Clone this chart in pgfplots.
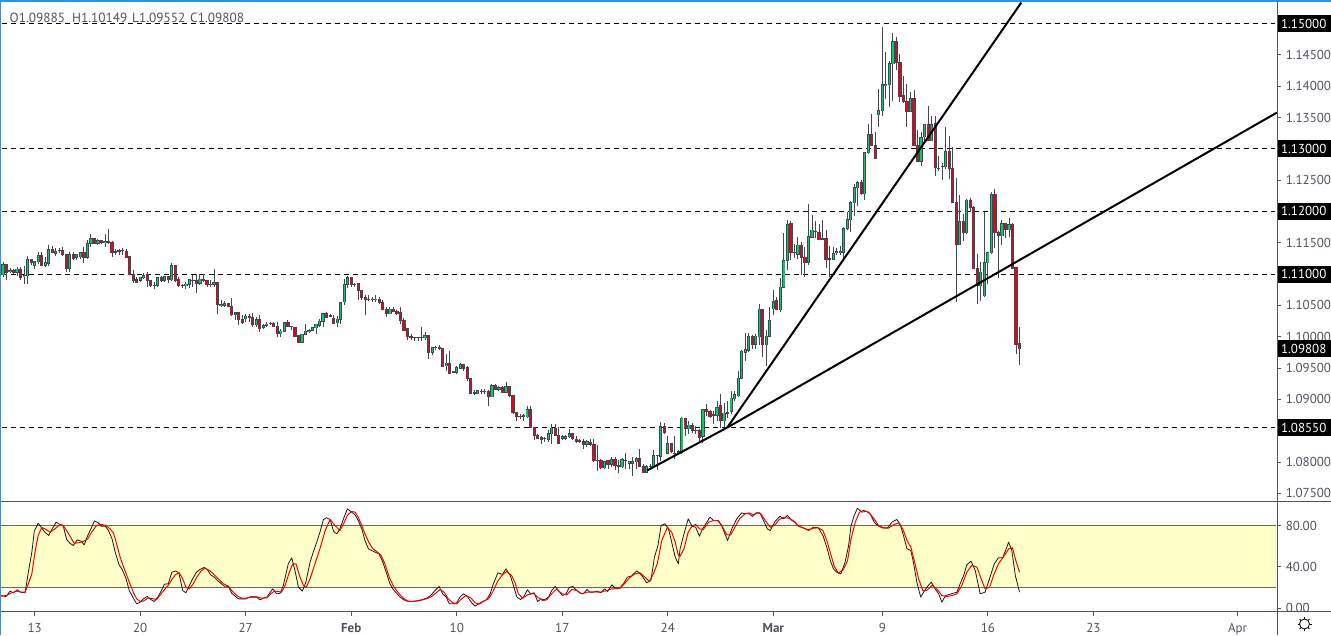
\documentclass[border=0pt]{standalone}
\usepackage{pgfplots}
\usepackage{pgfplotstable}
\usepackage{fontspec}
\setmainfont{PT Sans}
\pgfplotsset{compat=1.18}
\definecolor{tvtext}{HTML}{50535E}
\definecolor{tvblue}{HTML}{2196F3}
\definecolor{wick}{HTML}{434655}
\definecolor{cgreen}{HTML}{00D060}
\definecolor{cred}{HTML}{EE0010}
\definecolor{band}{HTML}{FFFFC8}
\definecolor{bandline}{HTML}{6B6B50}
\pgfplotstableread{
o c h l
1.1099 1.1115 1.1119 1.1096
1.1115 1.1103 1.1115 1.1091
1.1104 1.1106 1.1110 1.1102
1.1105 1.1103 1.1108 1.1100
1.1103 1.1108 1.1111 1.1097
1.1108 1.1095 1.1112 1.1090
1.1097 1.1098 1.1113 1.1084
1.1097 1.1123 1.1129 1.1084
1.1123 1.1118 1.1123 1.1115
1.1114 1.1120 1.1121 1.1108
1.1120 1.1129 1.1135 1.1116
1.1129 1.1114 1.1135 1.1113
1.1114 1.1118 1.1127 1.1112
1.1117 1.1139 1.1147 1.1113
1.1140 1.1134 1.1145 1.1133
1.1133 1.1136 1.1142 1.1129
1.1137 1.1137 1.1141 1.1133
1.1137 1.1131 1.1144 1.1129
1.1131 1.1109 1.1131 1.1103
1.1109 1.1131 1.1135 1.1103
1.1131 1.1125 1.1135 1.1122
1.1127 1.1131 1.1132 1.1123
1.1128 1.1134 1.1135 1.1124
1.1134 1.1127 1.1143 1.1118
1.1127 1.1148 1.1154 1.1124
1.1149 1.1157 1.1164 1.1143
1.1157 1.1149 1.1158 1.1148
1.1149 1.1153 1.1156 1.1147
1.1153 1.1150 1.1153 1.1148
1.1150 1.1152 1.1164 1.1144
1.1152 1.1151 1.1172 1.1148
1.1151 1.1135 1.1152 1.1127
1.1136 1.1134 1.1140 1.1131
1.1137 1.1136 1.1140 1.1130
1.1137 1.1137 1.1141 1.1130
1.1136 1.1127 1.1140 1.1126
1.1128 1.1100 1.1128 1.1098
1.1100 1.1090 1.1106 1.1085
1.1091 1.1087 1.1096 1.1086
1.1090 1.1095 1.1096 1.1088
1.1094 1.1097 1.1101 1.1092
1.1100 1.1090 1.1103 1.1080
1.1090 1.1081 1.1090 1.1080
1.1082 1.1082 1.1087 1.1076
1.1082 1.1094 1.1096 1.1080
1.1094 1.1090 1.1097 1.1088
1.1090 1.1096 1.1097 1.1088
1.1096 1.1091 1.1097 1.1085
1.1091 1.1113 1.1118 1.1089
1.1113 1.1090 1.1113 1.1087
1.1092 1.1082 1.1095 1.1080
1.1082 1.1081 1.1084 1.1077
1.1081 1.1084 1.1087 1.1076
1.1084 1.1091 1.1092 1.1078
1.1090 1.1090 1.1099 1.1080
1.1089 1.1085 1.1100 1.1069
1.1085 1.1092 1.1100 1.1083
1.1092 1.1090 1.1100 1.1087
1.1090 1.1083 1.1091 1.1080
1.1083 1.1084 1.1090 1.1080
1.1084 1.1086 1.1108 1.1080
1.1086 1.1051 1.1086 1.1036
1.1050 1.1051 1.1058 1.1047
1.1050 1.1053 1.1057 1.1048
1.1053 1.1049 1.1053 1.1048
1.1049 1.1035 1.1062 1.1033
1.1036 1.1039 1.1040 1.1026
1.1038 1.1027 1.1038 1.1018
1.1027 1.1023 1.1034 1.1020
1.1029 1.1033 1.1036 1.1023
1.1033 1.1030 1.1036 1.1023
1.1030 1.1019 1.1038 1.1016
1.1019 1.1027 1.1031 1.1015
1.1027 1.1013 1.1034 1.1008
1.1015 1.1018 1.1020 1.1012
1.1018 1.1020 1.1023 1.1016
1.1021 1.1021 1.1023 1.1019
1.1021 1.1016 1.1024 1.1015
1.1016 1.1005 1.1023 1.0999
1.1005 1.1009 1.1012 1.0999
1.1009 1.1022 1.1023 1.1007
1.1022 1.1017 1.1026 1.1015
1.1017 1.1016 1.1017 1.1010
1.1015 1.1001 1.1015 1.1000
1.1002 1.0991 1.1002 1.0990
1.0991 1.1004 1.1004 1.0990
1.1004 1.1009 1.1020 1.1003
1.1009 1.1010 1.1012 1.1006
1.1010 1.1014 1.1016 1.1009
1.1014 1.1020 1.1021 1.1005
1.1018 1.1025 1.1028 1.1015
1.1025 1.1037 1.1037 1.1016
1.1037 1.1031 1.1039 1.1030
1.1034 1.1033 1.1036 1.1031
1.1029 1.1021 1.1034 1.1020
1.1022 1.1028 1.1033 1.1016
1.1028 1.1054 1.1056 1.1021
1.1056 1.1083 1.1092 1.1050
1.1084 1.1094 1.1097 1.1077
1.1094 1.1083 1.1094 1.1079
1.1084 1.1084 1.1085 1.1079
1.1085 1.1073 1.1086 1.1058
1.1074 1.1063 1.1074 1.1058
1.1063 1.1059 1.1066 1.1034
1.1060 1.1060 1.1066 1.1057
1.1060 1.1060 1.1064 1.1056
1.1059 1.1060 1.1066 1.1056
1.1059 1.1055 1.1063 1.1053
1.1055 1.1044 1.1059 1.1044
1.1044 1.1037 1.1048 1.1031
1.1037 1.1044 1.1047 1.1036
1.1044 1.1041 1.1047 1.1039
1.1040 1.1037 1.1042 1.1034
1.1038 1.1026 1.1047 1.1021
1.1026 1.1010 1.1030 1.1009
1.1013 1.1000 1.1013 1.0995
1.1000 1.0998 1.1004 1.0994
1.0999 1.0999 1.1000 1.0993
1.0999 1.0999 1.1000 1.0993
1.0999 1.0999 1.1015 1.0993
1.0998 1.1002 1.1007 1.0994
1.1002 1.0975 1.1002 1.0964
1.0975 1.0982 1.0984 1.0970
1.0982 1.0983 1.0985 1.0978
1.0982 1.0981 1.0986 1.0978
1.0981 1.0953 1.0982 1.0953
1.0954 1.0958 1.0973 1.0946
1.0958 1.0942 1.0977 1.0940
1.0943 1.0945 1.0945 1.0942
1.0943 1.0951 1.0953 1.0941
1.0950 1.0955 1.0958 1.0948
1.0955 1.0949 1.0957 1.0945
1.0951 1.0933 1.0953 1.0930
1.0933 1.0910 1.0933 1.0908
1.0911 1.0910 1.0915 1.0907
1.0910 1.0914 1.0915 1.0908
1.0913 1.0913 1.0917 1.0908
1.0913 1.0913 1.0917 1.0908
1.0913 1.0904 1.0915 1.0890
1.0904 1.0922 1.0925 1.0903
1.0922 1.0916 1.0924 1.0915
1.0916 1.0919 1.0921 1.0913
1.0919 1.0911 1.0921 1.0910
1.0911 1.0920 1.0927 1.0910
1.0920 1.0906 1.0922 1.0904
1.0906 1.0879 1.0906 1.0876
1.0879 1.0872 1.0879 1.0865
1.0873 1.0873 1.0876 1.0869
1.0874 1.0873 1.0876 1.0865
1.0872 1.0884 1.0890 1.0870
1.0884 1.0855 1.0890 1.0854
1.0855 1.0842 1.0855 1.0835
1.0843 1.0838 1.0845 1.0836
1.0839 1.0836 1.0841 1.0828
1.0838 1.0838 1.0840 1.0832
1.0836 1.0845 1.0851 1.0832
1.0845 1.0854 1.0860 1.0829
1.0854 1.0843 1.0861 1.0843
1.0843 1.0829 1.0856 1.0828
1.0838 1.0841 1.0843 1.0835
1.0838 1.0840 1.0843 1.0835
1.0840 1.0845 1.0852 1.0838
1.0845 1.0837 1.0847 1.0835
1.0836 1.0832 1.0841 1.0830
1.0834 1.0833 1.0837 1.0830
1.0833 1.0828 1.0837 1.0821
1.0828 1.0832 1.0835 1.0824
1.0831 1.0828 1.0837 1.0825
1.0828 1.0802 1.0837 1.0800
1.0803 1.0802 1.0827 1.0786
1.0802 1.0791 1.0804 1.0789
1.0791 1.0801 1.0802 1.0789
1.0802 1.0796 1.0803 1.0789
1.0796 1.0804 1.0808 1.0792
1.0804 1.0794 1.0808 1.0787
1.0794 1.0793 1.0803 1.0783
1.0792 1.0804 1.0806 1.0791
1.0803 1.0803 1.0814 1.0789
1.0798 1.0801 1.0801 1.0789
1.0798 1.0801 1.0808 1.0778
1.0800 1.0805 1.0808 1.0789
1.0805 1.0793 1.0821 1.0792
1.0793 1.0784 1.0796 1.0783
1.0784 1.0792 1.0795 1.0783
1.0792 1.0793 1.0796 1.0787
1.0793 1.0810 1.0819 1.0791
1.0810 1.0810 1.0810 1.0787
1.0809 1.0857 1.0864 1.0801
1.0857 1.0847 1.0863 1.0845
1.0814 1.0829 1.0842 1.0812
1.0829 1.0816 1.0831 1.0814
1.0814 1.0814 1.0841 1.0805
1.0815 1.0816 1.0819 1.0813
1.0815 1.0870 1.0872 1.0813
1.0870 1.0853 1.0871 1.0841
1.0853 1.0859 1.0865 1.0844
1.0859 1.0851 1.0863 1.0847
1.0851 1.0850 1.0858 1.0845
1.0850 1.0839 1.0853 1.0831
1.0841 1.0883 1.0883 1.0831
1.0883 1.0880 1.0892 1.0874
1.0881 1.0873 1.0883 1.0870
1.0875 1.0874 1.0882 1.0861
1.0875 1.0887 1.0898 1.0866
1.0890 1.0866 1.0909 1.0855
1.0866 1.0878 1.0894 1.0855
1.0879 1.0878 1.0898 1.0871
1.0881 1.0902 1.0914 1.0877
1.0901 1.0907 1.0914 1.0898
1.0906 1.0934 1.0946 1.0903
1.0934 1.0977 1.0978 1.0933
1.0975 1.0979 1.1006 1.0962
1.0978 1.1000 1.1006 1.0975
1.1000 1.0987 1.1003 1.0981
1.0988 1.1001 1.1005 1.0981
1.1000 1.1044 1.1052 1.0986
1.1044 1.0987 1.1044 1.0967
1.0987 1.1001 1.1010 1.0954
1.1001 1.1026 1.1047 1.1000
1.1045 1.1056 1.1074 1.1035
1.1057 1.1043 1.1063 1.1043
1.1043 1.1079 1.1094 1.1039
1.1079 1.1122 1.1165 1.1078
1.1122 1.1179 1.1187 1.1107
1.1180 1.1134 1.1184 1.1123
1.1134 1.1134 1.1148 1.1126
1.1132 1.1146 1.1159 1.1124
1.1146 1.1127 1.1151 1.1099
1.1127 1.1119 1.1143 1.1095
1.1119 1.1160 1.1212 1.1114
1.1159 1.1170 1.1195 1.1158
1.1168 1.1168 1.1185 1.1158
1.1166 1.1155 1.1180 1.1154
1.1156 1.1155 1.1186 1.1154
1.1156 1.1124 1.1170 1.1110
1.1125 1.1124 1.1145 1.1095
1.1124 1.1133 1.1143 1.1122
1.1134 1.1136 1.1142 1.1130
1.1134 1.1136 1.1145 1.1131
1.1135 1.1172 1.1175 1.1122
1.1173 1.1187 1.1199 1.1170
1.1187 1.1214 1.1217 1.1167
1.1214 1.1238 1.1244 1.1193
1.1238 1.1246 1.1248 1.1209
1.1246 1.1228 1.1250 1.1227
1.1228 1.1294 1.1295 1.1218
1.1294 1.1323 1.1340 1.1291
1.1323 1.1305 1.1355 1.1304
1.1305 1.1285 1.1327 1.1284
1.1354 1.1361 1.1396 1.1335
1.1361 1.1402 1.1495 1.1353
1.1401 1.1403 1.1454 1.1380
1.1402 1.1436 1.1440 1.1366
1.1436 1.1471 1.1485 1.1377
1.1471 1.1437 1.1478 1.1426
1.1437 1.1384 1.1452 1.1375
1.1385 1.1375 1.1416 1.1373
1.1376 1.1359 1.1403 1.1334
1.1360 1.1380 1.1391 1.1359
1.1380 1.1305 1.1394 1.1304
1.1306 1.1280 1.1330 1.1279
1.1280 1.1318 1.1327 1.1273
1.1319 1.1338 1.1338 1.1312
1.1338 1.1313 1.1368 1.1312
1.1313 1.1338 1.1352 1.1312
1.1340 1.1270 1.1352 1.1257
1.1268 1.1268 1.1289 1.1265
1.1271 1.1271 1.1277 1.1250
1.1271 1.1295 1.1335 1.1267
1.1296 1.1268 1.1320 1.1252
1.1268 1.1215 1.1303 1.1213
1.1215 1.1147 1.1254 1.1055
1.1147 1.1184 1.1227 1.1146
1.1184 1.1167 1.1196 1.1152
1.1166 1.1218 1.1220 1.1164
1.1218 1.1207 1.1222 1.1199
1.1207 1.1109 1.1208 1.1108
1.1109 1.1081 1.1132 1.1053
1.1081 1.1103 1.1119 1.1057
1.1065 1.1118 1.1199 1.1063
1.1118 1.1134 1.1136 1.1084
1.1134 1.1227 1.1231 1.1132
1.1227 1.1167 1.1236 1.1142
1.1167 1.1161 1.1168 1.1094
1.1161 1.1180 1.1187 1.1146
1.1180 1.1171 1.1181 1.1157
1.1171 1.1179 1.1190 1.1159
1.1179 1.1109 1.1181 1.1108
1.1111 1.0988 1.1111 1.0972
1.09885 1.09808 1.10149 1.09552
}\candles
\pgfplotstableread{
k v
0.1 12.3
1.9 11.3
3 16.5
3.9 14.9
5.1 17.8
6 15.5
7.3 14.9
8.2 34.8
9.2 54.2
9.9 74.5
11 82.2
12 77.7
12.9 73.5
14 70.3
15 76.8
16.1 83.2
17.2 81
18.1 80
19.1 66.4
20 62.9
21 60.6
22.1 66.1
23.2 64.8
24.1 61.3
25.1 70.3
26 76.8
27 84.5
28.1 82.6
29 79.3
30.1 79.3
31 75.1
32 67.1
32.9 54.2
34 41.9
34.9 37.4
36 28.4
36.9 17.1
37.9 10.7
39 4.2
40 5.8
40.9 9
42 11.3
43 8.4
44 6.5
45 10.7
45.9 16.1
46.9 23.2
48 23.6
49 34.8
50.1 36.1
51 33.9
52.1 17.1
53 14.9
54 22
54.9 28.4
56 34.8
57 37.4
58.2 39.4
59.1 37.4
60 32.3
61.1 30
62 26.8
63.1 23.6
64 21.3
65.1 21
66 14.5
67 11.6
68 9
69 9
70 9
71 10.7
72 10.7
73.1 10.7
74.1 8.1
75 9.7
76 10.7
77.7 18.7
78.8 13.9
79.8 14.5
80.7 22
82.1 42.9
83.1 48.7
84 36.5
85 20.3
86.1 16.5
87.1 25.2
88.3 44.5
89.2 54.2
90.2 63.9
91.1 73.5
92.1 85.8
93 87.4
94 85.8
95 74.2
95.9 71.9
96.8 76.8
97.8 86.4
98.9 96.1
100.1 92.9
101.1 90.3
102 84.8
103 76.8
103.9 65.5
104.9 57.4
105.8 55.8
106.8 54.2
107.9 52.6
109 44.5
110.1 33.2
111 23.6
112 17.8
112.9 14.5
113.9 10.7
114.8 8.4
115.8 6.8
117.2 6.5
118.6 7.1
120 8.1
121.5 9.7
122.6 12.3
123.8 17.1
125 21
126 13.9
127 10.7
127.9 4.2
129 4.2
130 5.2
130.9 10.7
131.9 13.9
133 11.3
134.1 5.8
135.2 2
136.2 4.2
137.4 6.5
138.5 8.4
139.5 13.9
140.4 23.6
141.7 34.2
143 32.6
144 38.1
145.2 31.6
146.1 22
147.1 10.7
148.1 8.4
149 10.7
150.1 17.8
151 13.9
152 14.9
153 6.5
154 9
154.9 8.1
156.1 10.7
157 17.1
158 21
158.9 17.1
160 12.3
161.1 13.9
162 20.3
163 21
163.9 17.8
165.1 14.5
166 13.9
167 18.1
167.9 15.5
168.9 15.5
170 16.5
171 14.9
172 18.7
172.9 16.1
174.1 22.6
175 19.4
176.3 19.4
177.4 23.6
178.5 30
179.6 31
181.2 36.1
182.6 31.6
184 24.5
185.2 26.8
186.2 49.4
187.2 60.6
188.1 80
189.2 81.6
190.2 76.8
191.1 63.9
192.1 49.4
193 42.9
193.5 57.4
194.6 71.9
195.8 86.4
196.9 79.3
197.9 78.4
199 69.7
199.9 76.8
201.1 83.2
202 88
203 84.8
204.2 84.8
205.3 80
207 65.5
208.2 76.8
209.6 86.4
211 92.2
212 91.3
213.1 91.3
214.1 88.7
215.1 92.2
216.2 92.2
217.2 84.8
218.3 76.8
219.1 75.1
220.5 83.9
221.9 89
222.9 86.4
224 89.7
225.3 84.8
226.2 83.2
227.1 79.3
228.6 77.7
230 75.1
231.4 78.4
232.8 77.7
234.1 70.3
235.2 59
236.2 46.1
237.1 38.1
238 34.8
239.2 33.2
240.4 44.5
241.4 60.6
242.1 80
243 89.7
243.9 96.7
245.2 92.9
246.4 93.8
247.5 91.3
248.7 83.2
249.6 80
251 77.7
252.5 77.7
253.7 83.2
255.1 85.8
256 81.6
257 70.3
258 57.4
259.1 55.8
259.9 42.9
260.8 25.2
261.9 10.7
263 17.1
263.9 21.3
264.9 25.2
266 18.7
267 13.9
267.9 5.8
269 12.3
270.3 13.6
271.2 14.5
272.2 15.5
273.1 23.6
274.1 31.6
275 41.9
276.2 45.5
277.4 36.5
278.8 13.9
280.2 15.5
281.6 30
282.8 42.9
284 48.7
285.2 48.7
286.2 57.4
286.9 63.9
287.8 55.8
288.8 31.6
290 15.5
}\stochk
\pgfplotstableread{
k v
0.1 11.6
2 12.3
3.5 14.9
4.9 16.5
6.3 15.5
7.3 15.5
8.2 23.6
9.2 33.2
10.1 54.2
11 70.3
12 78
12.9 76.8
14.4 73.5
15.8 76.8
17.2 81
18.1 80
19.1 75.1
20.2 68.7
21.2 62.9
22.4 63.2
23.8 64.5
25.1 67.1
26.2 73.5
27.6 80
29 81
30.3 80
31.4 76.8
32.4 72.9
33.3 62.3
34.3 49.4
35.2 40.6
36.2 31.6
37.1 23.6
38.1 14.9
39 9
40 6.5
40.9 6.8
42.3 10
43.7 9
44.7 8.4
45.6 12.3
47.1 18.7
48 22
49 27.8
50.1 32.6
51.1 34.2
52.1 28.4
53 20.3
54 18.7
54.9 22.6
56.1 30
57.2 35.5
58.4 38.7
59.7 36.5
60.8 33.2
62.2 28.4
63.7 23.6
65.1 21.3
66 17.1
67.4 12.3
68.9 9.7
70.3 9.7
71.7 11.3
73.1 11
74.5 9.7
76 10
76.9 13.2
78.1 16.5
79.3 16.1
80.2 15.5
81.2 22
82.4 34.8
83.4 42.9
84.3 42.9
85.3 31.6
86.4 22
87.2 20.3
88.3 28.4
89.7 42.9
91.1 57.4
92.6 75.1
94 85.8
95.4 80
96.8 75.1
97.8 81.6
98.9 89.7
100.1 93.5
101.1 92.9
102 88
103 80
103.9 71.9
104.9 64.5
106 58.1
107.2 54.8
108.4 51.6
109.6 42.9
110.8 30
112 21.3
112.9 17.1
113.9 12.9
115 9
116.3 6.5
117.7 6.5
119.6 7.4
121.3 9
122.6 10.7
123.8 13.9
125.3 18.1
126.4 15.5
127.6 9
128.9 5.2
130 4.2
131.1 8.1
132.6 12.3
134.1 9.7
135.2 5.2
136.4 3.9
137.6 6.5
139 9
140.2 15.5
141.6 25.8
143 32.3
144.2 35.5
145.6 31.6
146.6 24.5
147.5 13.9
148.8 9.7
150.1 12.9
151.8 14.2
153 10.7
154.4 7.4
155.6 8.1
157 13.9
158.4 18.7
159.9 13.9
161.3 12.9
162.7 18.1
164.1 17.1
165.5 13.9
167 15.5
168.9 15.8
170.8 15.5
172.7 17.1
174.1 18.7
176.3 19.1
177.9 24.5
179.3 30
180.7 33.2
182.1 34.2
183.5 30
184.8 25.8
185.9 33.2
187 42.9
188.3 65.5
189.9 78.4
191.1 73.5
192.1 63.9
193 51
193.5 50.3
194.6 57.4
195.8 73.5
196.8 79
197.9 81
199 76.8
200.1 76.1
201.6 83.2
203 84.8
204.4 84.8
205.6 78.4
206.8 71
207.9 71
209.1 78.4
210.4 86.4
212 91.3
213.1 92.2
214.4 90.3
215.5 92.2
216.5 91.3
217.7 84.8
219.1 78.4
220.3 80
221.7 85.8
222.9 87.7
224.3 87.1
225.7 84.8
226.9 80
228.6 77.4
230 75.8
231.4 77.4
232.8 77.7
234.1 75.1
235.2 65.5
236.3 52.6
237.3 40.6
238.5 33.9
239.9 37.4
241.1 46.1
242.1 67.1
243.3 83.2
244.5 92.9
245.6 94.5
247.1 92.9
248.5 87.1
249.9 80
251.3 77.7
252.7 77.4
254.2 80.6
255.6 82.6
256.8 76.8
258 65.5
259.1 59
260.3 42.9
261.3 28.4
262.5 17.1
263.6 17.1
265.1 22
266.5 18.7
267.9 12.3
269.3 11.3
270.8 12.3
272.2 13.9
273.6 22
275 34.8
276.4 41.3
277.9 39.7
279.1 28.4
280.2 18.7
281.5 20.3
282.6 31.6
284 42.9
285.4 49.4
286.9 57.4
288 58.4
288.8 47.7
290 34.8
}\stochd
\pgfplotsset{
  paneaxis/.style={
    scale only axis, width=1277pt, xmin=0.147, xmax=363.2,
    axis line style={draw=none},
    tick style={draw=tvtext, line width=0.9pt},
    ticklabel style={font=\fontsize{13}{15}\selectfont, text=tvtext},
    ytick pos=right, tick align=outside,
    major tick length=4pt,
    clip mode=individual,
    y tick label style={anchor=west, xshift=1.2pt},
  },
  hline/.style={black, line width=1.1pt, dash pattern=on 5.5pt off 3.5pt, forget plot},
}
\tikzset{tag/.style={fill=black, text=white, inner sep=0pt, minimum width=53.5pt, minimum height=17pt, anchor=center, font=\fontsize{13}{15}\selectfont}}
\begin{document}
\begin{tikzpicture}[x=1pt,y=1pt]
\useasboundingbox (0,0) rectangle (1331,635);
\begin{axis}[paneaxis, at={(0pt,133.5pt)}, anchor=south west, height=499pt,
  ymin=1.073691, ymax=1.153353, xtick=\empty,
  ytick={1.075,1.08,1.085,1.09,1.095,1.10,1.105,1.11,1.115,1.12,1.125,1.13,1.135,1.14,1.145,1.15},
  yticklabels={1.07500,1.08000,{},1.09000,1.09500,1.10000,1.10500,{},1.11500,{},1.12500,{},1.13500,1.14000,1.14500,{}},
  scaled y ticks=false]
\addplot[hline] coordinates {(0.6,1.15) (362.6,1.15)};
\addplot[hline] coordinates {(0.6,1.13) (362.6,1.13)};
\addplot[hline] coordinates {(0.6,1.12) (362.6,1.12)};
\addplot[hline] coordinates {(0.6,1.11) (362.6,1.11)};
\addplot[hline] coordinates {(0.6,1.0855) (362.6,1.0855)};
% wicks
\addplot[draw=none, mark=none, forget plot, error bars/.cd, y dir=both, y explicit, error mark=none,
  error bar style={wick, line width=1pt, line cap=butt}]
  table[x expr=\coordindex+1, y expr=\thisrow{h}, y error plus expr=0, y error minus expr=\thisrow{h}-\thisrow{l}] {\candles};
% body outline
\addplot[draw=none, mark=none, forget plot, error bars/.cd, y dir=both, y explicit, error mark=none,
  error bar style={wick, line width=3.2pt, line cap=butt}]
  table[x expr=\coordindex+1, y expr={max(\thisrow{o},\thisrow{c})+0.00008}, y error plus expr=0, y error minus expr={abs(\thisrow{o}-\thisrow{c})+0.00016}] {\candles};
% rising bodies
\addplot[draw=none, mark=none, forget plot, error bars/.cd, y dir=both, y explicit, error mark=none,
  error bar style={cgreen, line width=1.25pt, line cap=butt}]
  table[x expr=\coordindex+1, y expr={\thisrow{c}>\thisrow{o} ? \thisrow{c}-0.00004 : nan}, y error plus expr=0, y error minus expr={abs(\thisrow{c}-\thisrow{o})-0.00004}] {\candles};
% falling bodies
\addplot[draw=none, mark=none, forget plot, error bars/.cd, y dir=both, y explicit, error mark=none,
  error bar style={cred, line width=1.25pt, line cap=butt}]
  table[x expr=\coordindex+1, y expr={\thisrow{o}>\thisrow{c} ? \thisrow{o}-0.00004 : nan}, y error plus expr=0, y error minus expr={abs(\thisrow{o}-\thisrow{c})-0.00004}] {\candles};
% trend lines
\addplot[black, line width=2pt, forget plot] coordinates {(184.1,1.07864) (206.9,1.0855)};
\addplot[black, line width=2pt, forget plot] coordinates {(206.9,1.0855) (290.5,1.15335)};
\addplot[black, line width=2pt, forget plot] coordinates {(206.9,1.0855) (363.2,1.13579)};
\node[tag] at (axis cs:370.8,1.15) {1.15000};
\node[tag] at (axis cs:370.8,1.13) {1.13000};
\node[tag] at (axis cs:370.8,1.12) {1.12000};
\node[tag] at (axis cs:370.8,1.11) {1.11000};
\node[tag] at (axis cs:370.8,1.09808) {1.09808};
\node[tag] at (axis cs:370.8,1.0855) {1.08550};
\end{axis}
\begin{axis}[paneaxis, at={(0pt,23.2pt)}, anchor=south west, height=110.3pt,
  ymin=-3.5, ymax=103.2,
  ytick={0,40,80}, yticklabels={0.00,40.00,80.00},
  xtick={10,40,70,100,130,160,190,220,251,281,311,352},
  xticklabels={13,20,27,\textbf{Feb},10,17,24,\textbf{Mar},9,16,23,Apr},
  xtick pos=bottom, x tick label style={yshift=-4pt}]
\addplot[draw=none, fill=band, forget plot] coordinates {(0.147,20) (362.8,20) (362.8,80) (0.147,80)} -- cycle;
\addplot[bandline, line width=1pt, forget plot] coordinates {(0.147,80) (362.8,80)};
\addplot[bandline, line width=1pt, forget plot] coordinates {(0.147,20) (362.8,20)};
\addplot[black!90, line width=0.8pt, line join=round, forget plot] table[x=k,y=v] {\stochk};
\addplot[red, line width=1pt, line join=round, forget plot] table[x=k,y=v] {\stochd};
\end{axis}
% frame
\draw[tvtext, line width=1pt] (1277.5,0) -- (1277.5,633);
\draw[tvtext, line width=1pt] (0,133.5) -- (1331,133.5);
\draw[tvtext, line width=1pt] (0,23.5) -- (1331,23.5);
\fill[tvblue] (0,633) rectangle (1331,635);
\fill[tvblue] (0,0) rectangle (1.3,635);
% legend values
\foreach \xx/\t in {9.5/O1.09885,72/H1.10149,132/L1.09552,190/C1.09808}{
  \node[anchor=west, inner sep=0pt, text=tvtext, font=\fontsize{13.3}{15}\selectfont] at (\xx,617) {\t};
}
% settings icon
\draw[black, line width=0.8pt] (1304.5,11) circle (5);
\foreach \a in {0,45,...,315}{
  \draw[black, line width=0.8pt] (1304.5,11) ++(\a:5) -- ++(\a:2);
}
\end{tikzpicture}
\end{document}
